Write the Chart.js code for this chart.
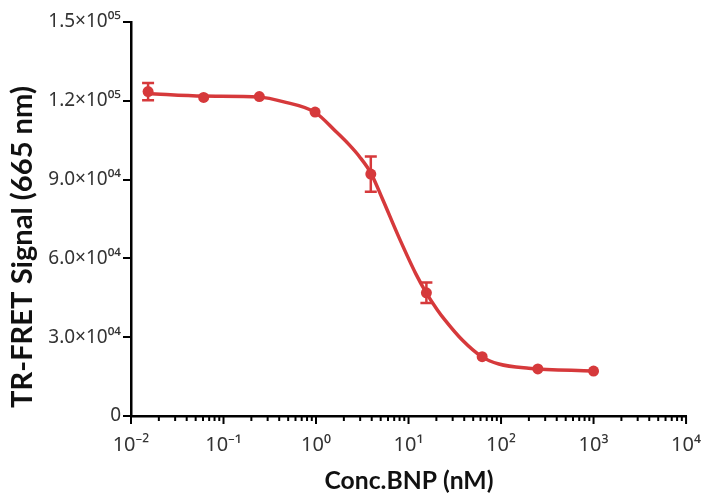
<!DOCTYPE html>
<html>
<head>
<meta charset="utf-8">
<script src="https://cdn.jsdelivr.net/npm/chart.js@4.4.1/dist/chart.umd.min.js"></script>
<style>
  html, body { margin: 0; padding: 0; background: #ffffff; }
  #wrap { width: 703px; height: 494px; position: relative; }
</style>
</head>
<body>
<div id="wrap"><canvas id="c" width="703" height="494"></canvas></div>
<script>
// ---- data ----
const concentrations = [0.0153, 0.061, 0.244, 0.977, 3.91, 15.6, 62.5, 250, 1000];
const signals = [123500, 121300, 121600, 115700, 92100, 46900, 22600, 17900, 17100];
const errors = [3300, 0, 0, 0, 6700, 3900, 0, 0, 0];

// fitted curve
const curveX = [0.0152, 0.0612, 0.245, 0.438, 0.977, 1.65, 2.29, 2.94, 3.93, 5.23, 7.92, 12.0, 15.6, 20.5, 25.2, 38.1, 61.7, 94.7, 199, 975];
const curveY = [122800, 121800, 121400, 119700, 115600, 108200, 103200, 98800, 92400, 82600, 67800, 54100, 46800, 40400, 36200, 28900, 22600, 19800, 18200, 17100];

const yTickValues = [0, 30000, 60000, 90000, 120000, 150000];
const yTickLabels = ['0', '3.0\u00d710\u2070\u2074', '6.0\u00d710\u2070\u2074', '9.0\u00d710\u2070\u2074', '1.2\u00d710\u2070\u2075', '1.5\u00d710\u2070\u2075'];
const xTickValues = [0.01, 0.1, 1, 10, 100, 1000, 10000];
const xTickLabels = ['10\u207b\u00b2', '10\u207b\u00b9', '10\u2070', '10\u00b9', '10\u00b2', '10\u00b3', '10\u2074'];

const xTitle = 'Conc.BNP (nM)';
const yTitle = 'TR-FRET Signal (665 nm)';

const RED = '#d6393b';
const TICK_FONT = "'Noto Sans', 'DejaVu Sans', sans-serif";
const TITLE_FONT = "Lato, 'Noto Sans', sans-serif";

function fitFont(ctx, text, target, weight, family) {
  ctx.font = weight + ' 20px ' + family;
  const w = ctx.measureText(text).width;
  return 20 * target / w;
}

const extras = {
  id: 'extras',
  afterDatasetsDraw(chart) {
    const ctx = chart.ctx;
    const xs = chart.scales.x, ys = chart.scales.y;
    ctx.save();
    ctx.strokeStyle = RED;
    ctx.lineWidth = 2.5;
    concentrations.forEach((c, i) => {
      if (!errors[i]) return;
      const px = xs.getPixelForValue(c);
      const top = ys.getPixelForValue(signals[i] + errors[i]);
      const bot = ys.getPixelForValue(signals[i] - errors[i]);
      ctx.beginPath();
      ctx.moveTo(px, top); ctx.lineTo(px, bot);
      ctx.moveTo(px - 6, top); ctx.lineTo(px + 6, top);
      ctx.moveTo(px - 6, bot); ctx.lineTo(px + 6, bot);
      ctx.stroke();
    });
    ctx.restore();
  },
  afterDraw(chart) {
    const ctx = chart.ctx;
    const xs = chart.scales.x;
    const area = chart.chartArea;
    ctx.save();
    ctx.strokeStyle = '#000';
    ctx.lineWidth = 2;
    for (let e = -2; e <= 4; e++) {
      for (let m = 1; m <= 9; m++) {
        if (e === 4 && m > 1) break;
        const v = m * Math.pow(10, e);
        const px = xs.getPixelForValue(v);
        const len = (m === 1) ? 8 : 5;
        ctx.beginPath();
        ctx.moveTo(px, area.bottom);
        ctx.lineTo(px, area.bottom + len);
        ctx.stroke();
      }
    }
    ctx.fillStyle = '#111';
    ctx.textAlign = 'center';
    ctx.textBaseline = 'middle';
    let fs = fitFont(ctx, xTitle, 169, 'bold', TITLE_FONT);
    ctx.font = 'bold ' + fs + 'px ' + TITLE_FONT;
    ctx.fillText(xTitle, 409, 481);
    fs = fitFont(ctx, yTitle, 322, 'bold', TITLE_FONT);
    ctx.font = 'bold ' + fs + 'px ' + TITLE_FONT;
    ctx.translate(23, 247);
    ctx.rotate(-Math.PI / 2);
    ctx.fillText(yTitle, 0, 0);
    ctx.restore();
  }
};

new Chart(document.getElementById('c'), {
  type: 'scatter',
  data: {
    datasets: [
      {
        type: 'line',
        label: 'fit',
        data: curveX.map((x, i) => ({ x: x, y: curveY[i] })),
        borderColor: RED,
        borderWidth: 3.5,
        pointRadius: 0,
        cubicInterpolationMode: 'monotone',
        fill: false,
        order: 2
      },
      {
        label: 'data',
        data: concentrations.map((x, i) => ({ x: x, y: signals[i] })),
        backgroundColor: RED,
        borderColor: RED,
        pointRadius: 5.5,
        pointBorderWidth: 0,
        showLine: false,
        order: 1
      }
    ]
  },
  plugins: [extras],
  options: {
    responsive: false,
    animation: false,
    devicePixelRatio: 1,
    layout: { padding: { top: 22, right: 15, left: 0, bottom: 0 } },
    plugins: { legend: { display: false }, tooltip: { enabled: false } },
    scales: {
      x: {
        type: 'logarithmic',
        min: 0.01,
        max: 10000,
        afterBuildTicks: (s) => { s.ticks = xTickValues.map(v => ({ value: v, major: true })); },
        afterFit: (s) => { s.height = 78; },
        grid: { display: true, drawOnChartArea: false, drawTicks: true, tickLength: 15, color: 'rgba(0,0,0,0)', tickColor: 'rgba(0,0,0,0)' },
        border: { display: true, color: '#000', width: 2.5 },
        ticks: {
          padding: 2,
          color: '#333',
          font: { family: TICK_FONT, size: 20 },
          maxRotation: 0,
          autoSkip: false,
          callback: (v) => { const i = xTickValues.indexOf(v); return i >= 0 ? xTickLabels[i] : ''; }
        }
      },
      y: {
        min: 0,
        max: 150000,
        afterBuildTicks: (s) => { s.ticks = yTickValues.map(v => ({ value: v })); },
        afterFit: (s) => { s.width = 131; },
        grid: { display: true, drawOnChartArea: false, drawTicks: true, tickLength: 8, color: '#000', lineWidth: 2 },
        border: { display: true, color: '#000', width: 2.5 },
        ticks: {
          padding: 2,
          color: '#333',
          font: { family: TICK_FONT, size: 19 },
          autoSkip: false,
          callback: (v) => { const i = yTickValues.indexOf(v); return i >= 0 ? yTickLabels[i] : ''; }
        }
      }
    }
  }
});
</script>
</body>
</html>
